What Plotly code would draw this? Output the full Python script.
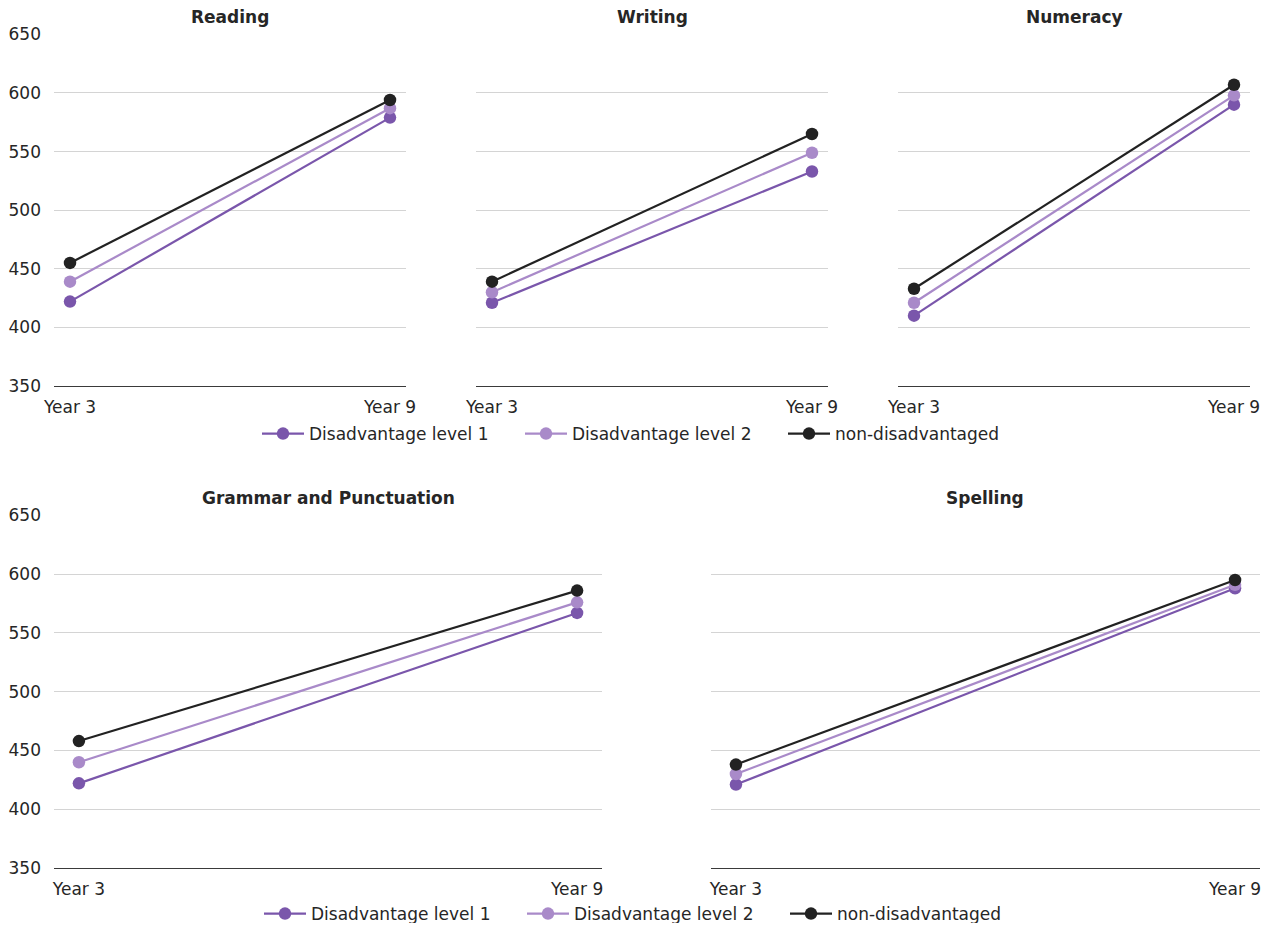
import plotly.graph_objects as go

years = ["Year 3", "Year 9"]
subjects = ["Reading", "Writing", "Numeracy", "Grammar and Punctuation", "Spelling"]
series_names = ["Disadvantage level 1", "Disadvantage level 2", "non-disadvantaged"]

level1 = {
    "Reading": [422, 579],
    "Writing": [421, 533],
    "Numeracy": [410, 590],
    "Grammar and Punctuation": [422, 567],
    "Spelling": [421, 588],
}
level2 = {
    "Reading": [439, 587],
    "Writing": [430, 549],
    "Numeracy": [421, 598],
    "Grammar and Punctuation": [440, 576],
    "Spelling": [430, 591],
}
nondis = {
    "Reading": [455, 594],
    "Writing": [439, 565],
    "Numeracy": [433, 607],
    "Grammar and Punctuation": [458, 586],
    "Spelling": [438, 595],
}
y_ticks = [350, 400, 450, 500, 550, 600, 650]

colors = ["#7a56ab", "#a98ac9", "#222222"]
series_data = [level1, level2, nondis]

# page body has an 8px margin; figure is sized to fit the window exactly
OFF = 8
W, H = 1270 - 2 * OFF, 931 - 2 * OFF


def px_x(p):
    return (p - OFF) / W


def px_y(p):
    return 1 - (p - OFF) / H


# subplot boxes in window pixels: (left, right, top, bottom)
boxes = [
    (54, 406, 34, 386),
    (476, 828, 34, 386),
    (898, 1250, 34, 386),
    (54, 602, 515, 868),
    (711, 1260, 515, 868),
]

FONT = "DejaVu Sans"
FS = 17
fig = go.Figure()
layout = dict(
    width=W, height=H,
    template="none",
    margin=dict(l=0, r=0, t=0, b=0, pad=0, autoexpand=False),
    paper_bgcolor="white", plot_bgcolor="white",
    font=dict(family=FONT, size=FS, color="#262626"),
    annotations=[],
)

for i, subj in enumerate(subjects):
    l, r, t, b = boxes[i]
    ax = "" if i == 0 else str(i + 1)
    xa = "xaxis" + ax
    ya = "yaxis" + ax
    legend_id = "legend" if i < 3 else "legend2"
    first_in_row = i in (0, 3)
    for s, name in enumerate(series_names):
        fig.add_trace(go.Scatter(
            x=years, y=series_data[s][subj],
            mode="lines+markers",
            name=name,
            line=dict(color=colors[s], width=2.2),
            marker=dict(color=colors[s], size=12.5, line=dict(width=0)),
            xaxis="x" + ax, yaxis="y" + ax,
            legend=legend_id,
            legendgroup=legend_id + name,
            showlegend=first_in_row,
            cliponaxis=False,
        ))
    layout[xa] = dict(
        domain=[px_x(l), px_x(r)],
        type="category",
        range=[-0.05, 1.05],
        showgrid=False,
        showline=True, linecolor="#3a3a3a", linewidth=1.2,
        ticks="", ticklabelstandoff=5,
        tickfont=dict(size=FS, color="#262626"),
        anchor="y" + ax,
        zeroline=False, automargin=False,
        fixedrange=True,
    )
    layout[ya] = dict(
        domain=[px_y(b), px_y(t)],
        range=[350, 650.3],
        tickvals=y_ticks,
        showticklabels=first_in_row,
        showgrid=True, gridcolor="#d4d4d4", gridwidth=1,
        showline=False, zeroline=False,
        ticks="", ticklabelstandoff=12,
        tickfont=dict(size=FS, color="#262626"),
        anchor="x" + ax, automargin=False,
        fixedrange=True,
    )
    layout["annotations"].append(dict(
        text="<b>" + subj + "</b>",
        x=px_x((l + r) / 2), y=px_y(t - 17),
        xref="paper", yref="paper",
        xanchor="center", yanchor="middle",
        showarrow=False,
        font=dict(family=FONT, size=FS, color="#262626"),
    ))

legend_common = dict(
    orientation="h", xanchor="left", yanchor="middle",
    xref="paper", yref="paper",
    font=dict(family=FONT, size=FS, color="#262626"),
    bgcolor="rgba(0,0,0,0)",
    entrywidth=206, itemwidth=42,
)
layout["legend"] = dict(legend_common, x=px_x(257), y=px_y(434))
layout["legend2"] = dict(legend_common, x=px_x(259), y=px_y(914))
layout["showlegend"] = True

fig.update_layout(**layout)
fig.write_html("out.html")
